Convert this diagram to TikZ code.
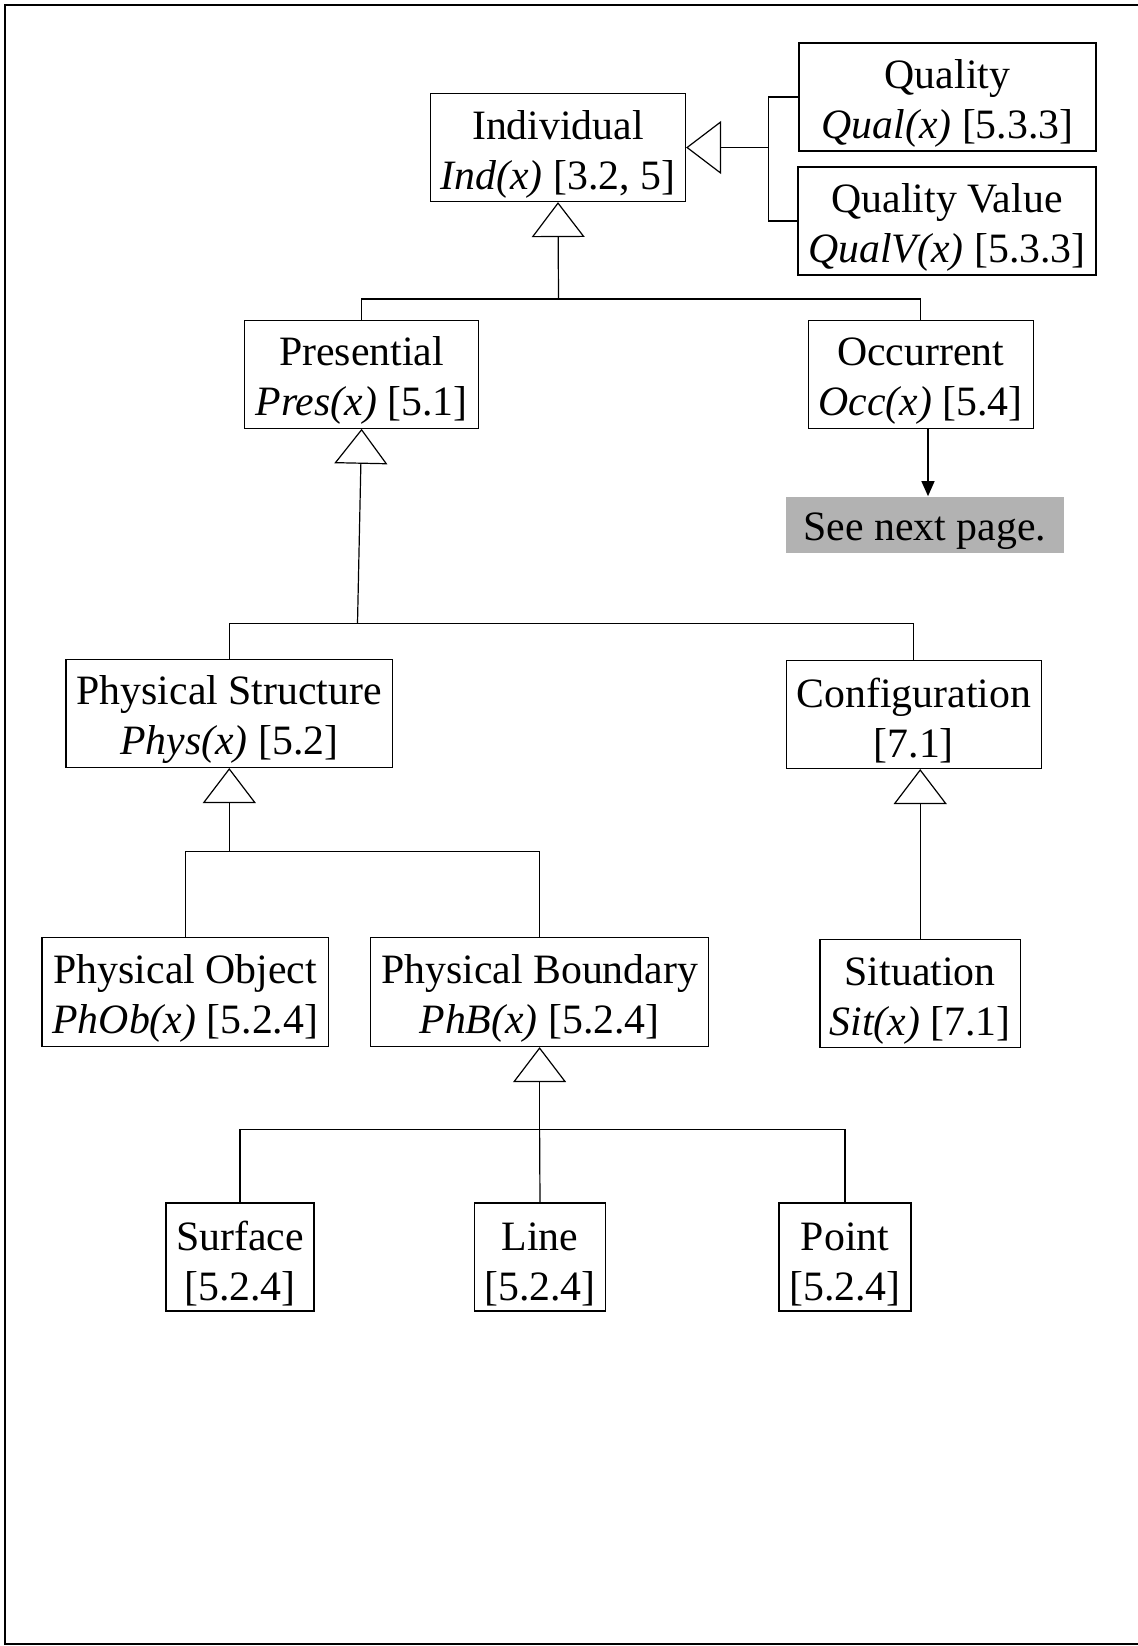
\documentclass[tikz,border=0pt]{standalone}
\usepackage{fontspec}
\setmainfont{Liberation Serif}
\usetikzlibrary{arrows.meta}
% first line of a class box, with a strut that sets its height
\newcommand\clshead[1]{\rule{0pt}{21pt}#1}
\begin{document}
\begin{tikzpicture}[x=0.5pt,y=-0.5pt,
  cls/.style={draw, line width=0.6pt, fill=white, align=center, inner sep=0pt,
    font=\fontsize{20.9}{25}\selectfont},
  note/.style={fill=gray!60, inner sep=0pt, font=\fontsize{20.9}{25}\selectfont,
    execute at begin node={\rule{0pt}{20pt}}},
  link/.style={line width=0.6pt},
  gen/.style={line width=0.6pt, -{Triangle[open, length=17.5pt, width=26.5pt, fill=white]}},
  cont/.style={line width=0.6pt, -{Triangle[length=7.5pt, width=6.5pt]}}]
\useasboundingbox (0,0) rectangle (1138,1646);
\clip (0,0) rectangle (1138,1646);
% page frame
\draw[line width=1pt] (1200,5) -- (5,5) -- (5,1644) -- (1200,1644);

% classes
\node[cls, minimum width=127.5pt, minimum height=54pt] (ind) at (558,147.5)
  {\clshead{Individual}\\\textit{Ind(x)} [3.2, 5]};
\node[cls, minimum width=148.5pt, minimum height=54pt] (qual) at (947.5,97)
  {\clshead{Quality}\\\textit{Qual(x)} [5.3.3]};
\node[cls, minimum width=149pt, minimum height=54pt] (qualv) at (947,221)
  {\clshead{Quality Value}\\\textit{QualV(x)} [5.3.3]};
\node[cls, minimum width=117pt, minimum height=54pt] (pres) at (361.6,374.2)
  {\clshead{Presential}\\\textit{Pres(x)} [5.1]};
\node[cls, minimum width=112.5pt, minimum height=54pt] (occ) at (920.7,374.2)
  {\clshead{Occurrent}\\\textit{Occ(x)} [5.4]};
\node[note, minimum width=138.75pt, minimum height=28.25pt] (next) at (924.8,524.8)
  {See next page.};
\node[cls, minimum width=163.3pt, minimum height=54pt] (phys) at (229.3,713.4)
  {\clshead{Physical Structure}\\\textit{Phys(x)} [5.2]};
\node[cls, minimum width=127.5pt, minimum height=54pt] (conf) at (913.8,714.4)
  {\clshead{Configuration}\\{[7.1]}};
\node[cls, minimum width=143.3pt, minimum height=54.5pt] (phob) at (185.3,992)
  {\clshead{Physical Object}\\\textit{PhOb(x)} [5.2.4]};
\node[cls, minimum width=169pt, minimum height=54.5pt] (phb) at (539.6,992)
  {\clshead{Physical Boundary}\\\textit{PhB(x)} [5.2.4]};
\node[cls, minimum width=100.2pt, minimum height=54pt] (sit) at (920.2,993.7)
  {\clshead{Situation}\\\textit{Sit(x)} [7.1]};
\node[cls, minimum width=74pt, minimum height=54pt] (surf) at (240,1257)
  {\clshead{Surface}\\{[5.2.4]}};
\node[cls, minimum width=65.5pt, minimum height=54pt] (line) at (540,1257)
  {\clshead{Line}\\{[5.2.4]}};
\node[cls, minimum width=66pt, minimum height=54pt] (point) at (845,1257)
  {\clshead{Point}\\{[5.2.4]}};

% junctions of the generalisation trees
\coordinate (jq) at (768.5,147.5);
\coordinate (ji) at (558.5,299);
\coordinate (jp) at (357.5,623.6);
\coordinate (js) at (229.3,851.6);
\coordinate (jb) at (539.6,1129.5);

% Quality / Quality Value -> Individual
\draw[gen] (jq) -- (ind.east);
\draw[link] (qual.west) -| (jq) |- (qualv.west);
% Presential / Occurrent -> Individual
\draw[gen] (ji) -- (ind.south);
\draw[link] (pres.north) |- (ji) -| (occ.north);
% Occurrent continues
\coordinate (nx) at ([xshift=1.6pt]next.north);
\draw[cont] (nx |- occ.south) -- (nx);
% Physical Structure / Configuration -> Presential
\draw[gen] (jp) -- (pres.south);
\draw[link] (phys.north) |- (jp) -| (conf.north);
% Physical Object / Physical Boundary -> Physical Structure
\draw[gen] (js) -- (phys.south);
\draw[link] (phob.north) |- (js) -| (phb.north);
% Situation -> Configuration
\draw[gen] (sit.north) -- (sit.north |- conf.south);
% Surface / Line / Point -> Physical Boundary
\draw[gen] (jb) -- (phb.south);
\draw[link] (surf.north) |- (jb) -| (point.north);
\draw[link] (line.north) -- (jb);
\end{tikzpicture}
\end{document}
